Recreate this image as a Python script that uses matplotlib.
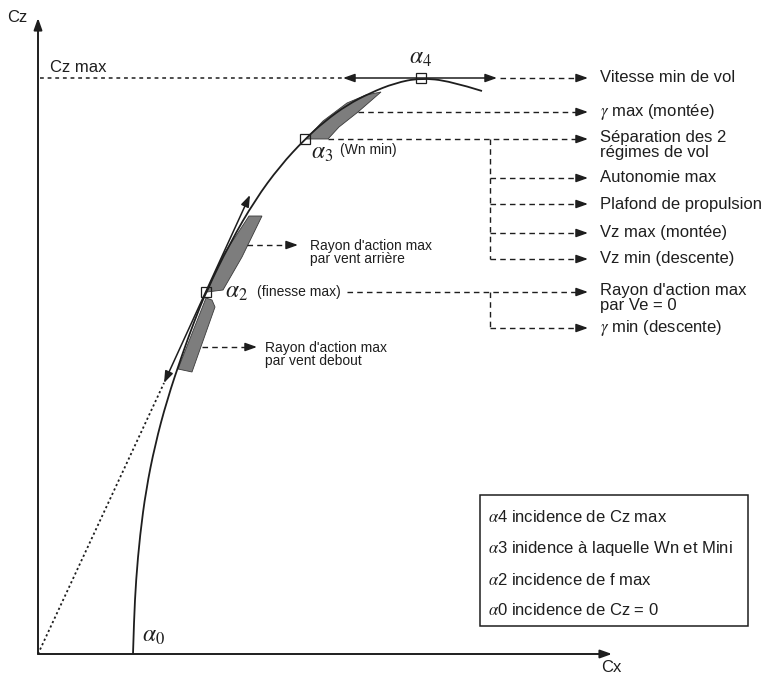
import numpy as np
import matplotlib
matplotlib.use("Agg")
import matplotlib.pyplot as plt
from matplotlib.patches import Polygon, Rectangle, PathPatch
from matplotlib.path import Path

plt.rcParams['font.family'] = ['Liberation Sans', 'DejaVu Sans']
plt.rcParams['mathtext.fontset'] = 'stix'

ink = '#1e1e1e'

# polar curve Cz = f(Cx), read in drawing units (x right, y down)
curve_x = [133, 134, 136, 140, 146, 155, 167, 182, 194, 206, 230, 255, 280,
           305, 325, 347, 370, 395, 420, 450, 482]
curve_y = [654, 620, 580, 535, 490, 445, 400, 355, 322, 292, 243, 200, 166,
           139, 121, 105, 93, 83, 78, 81, 91]

origin = (38, 654)
# characteristic incidences on the curve
alpha_pts = {'a4': (421, 78), 'a3': (305, 139), 'a2': (206, 292)}

# shaded zones along the curve
zone_top = [(306, 139), (323, 121), (347, 103), (366, 95), (381, 92),
            (358, 112), (339, 127), (328, 139)]
zone_tail = [(207, 292), (222, 257), (249, 216), (262, 216), (242, 257),
             (223, 290)]
zone_head = [(206, 298), (212, 300), (215, 307), (192, 372), (178, 369)]

# right-hand column of consequences
right_labels = ['Vitesse min de vol',
                r'$\gamma$ max (montée)',
                'Séparation des 2\nrégimes de vol',
                'Autonomie max',
                'Plafond de propulsion',
                'Vz max (montée)',
                'Vz min (descente)',
                "Rayon d'action max\npar Ve = 0",
                r'$\gamma$ min (descente)']
right_y = [78, 112, 139, 178, 204, 233, 259, 292, 328]
right_start = [500, 358, 328, 490, 490, 490, 490, 347, 490]

legend_lines = [r'$\alpha$4 incidence de Cz max',
                r'$\alpha$3 inidence à laquelle Wn et Mini',
                r'$\alpha$2 incidence de f max',
                r'$\alpha$0 incidence de Cz = 0']
legend_y = [517, 548, 580, 610]

fig = plt.figure(figsize=(7.66, 6.77), dpi=100)
ax = fig.add_axes([0, 0, 1, 1])
ax.set_xlim(0, 766)
ax.set_ylim(677, 0)
ax.axis('off')

head = '-|>,head_length=0.7,head_width=0.25'
both = '<|-|>,head_length=0.7,head_width=0.25'


def arrow(x0, y0, x1, y1, style=head, lw=1.1):
    ax.annotate('', xy=(x1, y1), xytext=(x0, y0),
                arrowprops=dict(arrowstyle=style, color=ink, lw=lw,
                                shrinkA=0, shrinkB=0))


def dash_arrow(x0, x1, y):
    ax.plot([x0, x1 - 8], [y, y], ls=(0, (4, 3)), color=ink, lw=1.0)
    arrow(x1 - 9, y, x1, y)


def smooth_path(xs, ys):
    # quadratic b-spline through the read points as control polygon
    pts = list(zip(xs, ys))
    verts = [pts[0]]
    codes = [Path.MOVETO]
    for i in range(1, len(pts) - 1):
        mid = ((pts[i][0] + pts[i + 1][0]) / 2, (pts[i][1] + pts[i + 1][1]) / 2)
        end = mid if i < len(pts) - 2 else pts[-1]
        verts += [pts[i], end]
        codes += [Path.CURVE3, Path.CURVE3]
    return Path(verts, codes)


# axes
arrow(origin[0], origin[1], origin[0], 18, lw=1.4)
arrow(origin[0], origin[1], 612, origin[1], lw=1.4)
ax.text(17, 17, 'Cz', fontsize=12, ha='center', va='center', color=ink)
ax.text(611, 667, 'Cx', fontsize=12, ha='center', va='center', color=ink)

# Cz max level
ax.plot([40, 343], [78, 78], ls=(0, (2.5, 2.5)), color=ink, lw=1.1)
ax.text(50, 68, 'Cz max', fontsize=12, ha='left', va='center', color=ink)
arrow(497, 78, 343, 78, style=both)

# shaded zones
for pts in (zone_top, zone_tail, zone_head):
    ax.add_patch(Polygon(pts, closed=True, facecolor='#7d7d7d',
                         edgecolor='#3a3a3a', lw=0.6, zorder=2))

# polar curve
ax.add_patch(PathPatch(smooth_path(curve_x, curve_y), fill=False,
                       edgecolor=ink, lw=1.3, zorder=3))

# tangent from the origin (finesse max)
ax.plot([origin[0], 164], [origin[1], 383], ls=(0, (1.2, 1.5)), color=ink,
        lw=1.3)
arrow(250, 195, 164, 383, style=both)

for (px, py) in alpha_pts.values():
    ax.plot(px, py, marker='s', ms=7, mfc='none', mec=ink, mew=0.9, zorder=4)

# incidence labels
ax.text(409, 58, r'$\alpha_4$', fontsize=17, ha='left', va='center', color=ink)
ax.text(311, 153, r'$\alpha_3$', fontsize=17, ha='left', va='center', color=ink)
ax.text(340, 150, '(Wn min)', fontsize=10, ha='left', va='center', color=ink)
ax.text(225, 292, r'$\alpha_2$', fontsize=17, ha='left', va='center', color=ink)
ax.text(257, 292, '(finesse max)', fontsize=10, ha='left', va='center',
        color=ink)
ax.text(142, 636, r'$\alpha_0$', fontsize=17, ha='left', va='center', color=ink)

# wind cases around alpha 2
dash_arrow(247, 298, 245)
ax.text(310, 239, "Rayon d'action max\npar vent arrière", fontsize=10,
        ha='left', va='top', linespacing=0.95, color=ink)
dash_arrow(202, 257, 347)
ax.text(265, 341, "Rayon d'action max\npar vent debout", fontsize=10,
        ha='left', va='top', linespacing=0.95, color=ink)

# right column
for x0, y, lab in zip(right_start, right_y, right_labels):
    dash_arrow(x0, 588, y)
    if '\n' in lab:
        ax.text(600, y - 9, lab, fontsize=12, ha='left', va='top',
                linespacing=1.0, color=ink)
    else:
        ax.text(600, y, lab, fontsize=12, ha='left', va='center', color=ink)
ax.plot([490, 490], [139, 259], ls=(0, (4, 3)), color=ink, lw=1.0)
ax.plot([490, 490], [292, 328], ls=(0, (4, 3)), color=ink, lw=1.0)

# legend box
ax.add_patch(Rectangle((480, 495), 268, 131, fill=False, edgecolor=ink,
                       lw=1.1))
for y, lab in zip(legend_y, legend_lines):
    ax.text(488, y, lab, fontsize=12, ha='left', va='center', color=ink)

fig.savefig('out.png', dpi=100)
